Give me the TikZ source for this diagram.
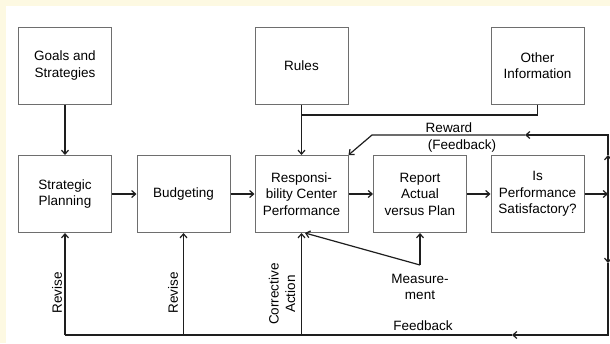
\documentclass[tikz,border=0pt]{standalone}
\usepackage{fontspec}
\setmainfont{Liberation Sans}
\usetikzlibrary{arrows.meta,positioning,calc}
\definecolor{creambg}{RGB}{253,249,226}
\definecolor{boxgray}{RGB}{110,110,110}
\definecolor{linedark}{RGB}{30,30,30}

\begin{document}
\begin{tikzpicture}[x=1pt,y=-1pt,
    box/.style={draw=boxgray, line width=1pt, minimum width=93pt, minimum height=77pt,
        align=center, inner sep=2pt, font=\fontsize{13.5}{16.5}\selectfont},
    flow/.style={draw=linedark, line width=1.2pt, -{Straight Barb[length=4pt,width=7pt]}},
    wire/.style={draw=linedark, line width=1.2pt},
    lbl/.style={font=\fontsize{13.5}{16.5}\selectfont, align=center, inner sep=1pt}]
    \useasboundingbox (0,0) rectangle (610,343);
    \fill[creambg] (0,0) rectangle (610,343);
    \fill[white] (6,6) rectangle (610,343);

    % Inputs
    \node[box] (goals) at (65,65.5) {Goals and\\Strategies};
    \node[box] (rules) at (301.5,65.5) {Rules};
    \node[box] (other) at (537.5,65.5) {Other\\Information};

    % Control loop
    \node[box] (strat) at (65,194) {Strategic\\Planning};
    \node[box] (budget) at (183.5,194) {Budgeting};
    \node[box] (resp) at (301.5,194) {Responsi-\\bility Center\\Performance};
    \node[box] (report) at (420,194) {Report\\Actual\\versus Plan};
    \node[box] (perf) at (537.5,194) {Is\\Performance\\Satisfactory?};

    % Turning points
    \coordinate (join) at (301.5,115);
    \coordinate (split) at (608,194);
    \coordinate (upTip) at (608,155);
    \coordinate (rwR) at (608,135);
    \coordinate (rwTip) at (525,135);
    \coordinate (rwL) at (372,135);
    \coordinate (downTip) at (608,263);
    \coordinate (fbR) at (608,335);
    \coordinate (fbTip) at (512,335);
    \coordinate (fbL) at (65,335);
    \coordinate (fbB) at (183.5,335);
    \coordinate (fbC) at (301.5,335);
    \coordinate (meas) at (420,265);

    % Inputs into the loop
    \draw[flow] (goals) -- (strat);
    \draw[flow] (rules) -- (resp);
    \draw[wire] (other.south) |- (join);

    % Main chain
    \draw[flow] (strat) -- (budget);
    \draw[flow] (budget) -- (resp);
    \draw[flow] (resp) -- (report);
    \draw[flow] (report) -- (perf);
    \draw[flow] (perf) -- (split);

    % Reward (feedback)
    \draw[flow] (split) -- (upTip);
    \draw[flow] (upTip) -- (rwR) -- (rwTip);
    \draw[flow] (rwTip) -- (rwL) -- (resp.north east);
    \node[lbl, above] (reward) at (449,134) {Reward};
    \node[lbl, below] (rewardfb) at (462,138.5) {(Feedback)};

    % Feedback
    \draw[flow] (split) -- (downTip);
    \draw[flow] (downTip) -- (fbR) -- (fbTip);
    \draw[wire] (fbTip) -- (fbL);
    \draw[flow] (fbL) -- (strat);
    \draw[flow] (fbB) -- (budget);
    \draw[flow] (fbC) -- (resp);
    \node[lbl] (feedback) at (423,326) {Feedback};
    \node[lbl, rotate=90] (revise1) at (57,293) {Revise};
    \node[lbl, rotate=90] (revise2) at (173,293) {Revise};
    \node[lbl, rotate=90] (corrective) at (282,294) {Corrective\\Action};

    % Measurement
    \draw[flow] (meas) -- (report.south);
    \draw[flow] (meas) -- ([xshift=3.5pt]resp.south);
    \node[lbl] (measure) at (420,287) {Measure-\\ment};
\end{tikzpicture}
\end{document}
